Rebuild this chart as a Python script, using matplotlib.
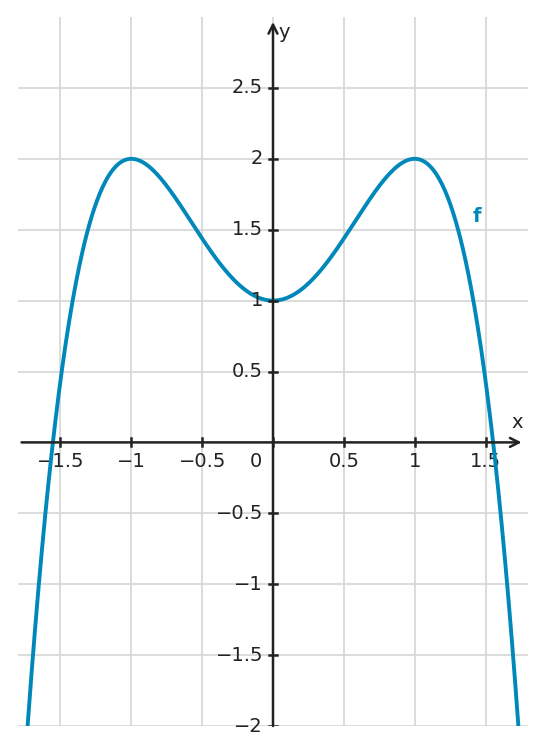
import numpy as np
import matplotlib
matplotlib.use('Agg')
import matplotlib.pyplot as plt

plt.rcParams['font.family'] = ['DejaVu Sans']

# f(x) = -x^4 + 2x^2 + 1, coefficients highest power first
f_coeffs = [-1, 0, 2, 0, 1]
x_ticks = [-1.5, -1, -0.5, 0.5, 1, 1.5]
x_tick_labels = ['\u22121.5', '\u22121', '\u22120.5', '0.5', '1', '1.5']
y_ticks = [-2, -1.5, -1, -0.5, 0.5, 1, 1.5, 2, 2.5]
y_tick_labels = ['\u22122', '\u22121.5', '\u22121', '\u22120.5', '0.5', '1', '1.5', '2', '2.5']

CURVE = '#0088bb'
AXIS = '#222222'
GRID = '#d6d6d6'
FS = 14

fig = plt.figure(figsize=(5.47, 7.55), dpi=100)
ax = fig.add_axes([18 / 547, 29 / 755, 510 / 547, 709 / 755])
ax.set_xlim(-1.8, 1.8)
ax.set_ylim(-2, 3)

# grid
for gx in x_ticks + [0]:
    ax.axvline(gx, color=GRID, lw=1.2, zorder=0)
for gy in y_ticks:
    ax.axhline(gy, color=GRID, lw=1.2, zorder=0)

for s in ax.spines.values():
    s.set_visible(False)
ax.set_xticks([])
ax.set_yticks([])

# axes with arrows
ax.annotate('', xy=(1.755, 0), xytext=(-1.775, 0),
            arrowprops=dict(arrowstyle='->', color=AXIS, lw=1.8,
                            mutation_scale=16, shrinkA=0, shrinkB=0), zorder=3)
ax.annotate('', xy=(0, 2.965), xytext=(0, -2),
            arrowprops=dict(arrowstyle='->', color=AXIS, lw=1.8,
                            mutation_scale=16, shrinkA=0, shrinkB=0), zorder=3)
ax.text(1.68, 0.07, 'x', fontsize=FS, color=AXIS, ha='left', va='bottom')
ax.text(0.04, 2.89, 'y', fontsize=FS, color=AXIS, ha='left', va='center')

# ticks
tk = 0.028
for t, lab in zip(x_ticks, x_tick_labels):
    ax.plot([t, t], [-tk, tk], color=AXIS, lw=1.8, zorder=3)
    ax.text(t, -0.07, lab, fontsize=FS, color=AXIS, ha='center', va='top', zorder=2)
ax.plot([0, 0], [-tk, tk], color=AXIS, lw=1.8, zorder=3)
ax.text(-0.12, -0.07, '0', fontsize=FS, color=AXIS, ha='center', va='top')
tx = 0.028
for t, lab in zip(y_ticks, y_tick_labels):
    ax.plot([-tx, tx], [t, t], color=AXIS, lw=1.8, zorder=3)
    ax.text(-0.07, t, lab, fontsize=FS, color=AXIS, ha='right', va='center', zorder=4)

# curve
xs = np.linspace(-1.8, 1.8, 600)
ys = np.polyval(f_coeffs, xs)
ax.plot(xs, ys, color=CURVE, lw=2.8, zorder=2, clip_on=True)
ax.text(1.44, 1.59, 'f', fontsize=FS, fontweight='bold', color=CURVE,
        ha='center', va='center')

fig.savefig('out.png', dpi=100)
